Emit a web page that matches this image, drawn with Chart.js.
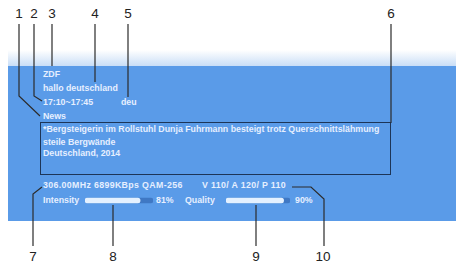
<!DOCTYPE html>
<html>
<head>
<meta charset="utf-8">
<script src="https://cdn.jsdelivr.net/npm/chart.js@4/dist/chart.umd.min.js"></script>
<style>
  html, body { margin: 0; padding: 0; background: #fff; }
  #stage { position: relative; width: 456px; height: 264px; overflow: hidden; background: #fff;
           font-family: "Liberation Sans", Arial, sans-serif; }
  #band { position: absolute; left: 8px; top: 50px; width: 448px; height: 16px;
          background: linear-gradient(#ffffff, #c9def7); }
  #panel { position: absolute; left: 8px; top: 66px; width: 448px; height: 155px; background: #5a9be8; }
  #box { position: absolute; left: 40px; top: 122px; width: 349px; height: 51px;
         border: 1.5px solid #1d3557; }
  .t { position: absolute; color: #e6efff; font-size: 8.8px; font-weight: bold; white-space: nowrap; line-height: 10px; }
  .wide { letter-spacing: 0.35px; }
  .n { position: absolute; color: #222; font-size: 13.5px; line-height: 14px; transform: translateX(-50%); }
  .bar { position: absolute; height: 9px; }
  svg { position: absolute; left: 0; top: 0; }
</style>
</head>
<body>
<div id="stage">
  <div id="band"></div>
  <div id="panel"></div>
  <div id="box"></div>
  <div id="texts"></div>
  <svg width="456" height="264">
    <g stroke="#2b2b2b" stroke-width="1.2" fill="none">
      <polyline points="19,24 19,96 40,116"/>
      <polyline points="34,24 34,96 42,101"/>
      <polyline points="52,24 52,66"/>
      <polyline points="95,24 95,82"/>
      <polyline points="128,24 128,97"/>
      <polyline points="391,24 391,123"/>
      <polyline points="33,246 33,194 42,187"/>
      <polyline points="113,246 113,205"/>
      <polyline points="256,246 256,205"/>
      <polyline points="324,246 324,199 311,187 292,187"/>
    </g>
  </svg>
  <div class="bar" style="left:85px; top:196px; width:68px;"><canvas id="intensityBar"></canvas></div>
  <div class="bar" style="left:226px; top:196px; width:64px;"><canvas id="qualityBar"></canvas></div>
</div>
<script>
// channel info
var channelName = 'ZDF';
var eventTitle = 'hallo deutschland';
var eventTime = '17:10~17:45';
var audioLang = 'deu';
var genre = 'News';
var description = ['*Bergsteigerin im Rollstuhl Dunja Fuhrmann besteigt trotz Querschnittslähmung',
                   'steile Bergwände', 'Deutschland, 2014'];
var tuning = '306.00MHz 6899KBps QAM-256';
var pids = 'V 110/ A 120/ P 110';

// signal meters
var meterLabels = ['Intensity', 'Quality'];
var meterValues = [81, 90];

// callout numbers
var calloutLabels = ['1', '2', '3', '4', '5', '6', '7', '8', '9', '10'];

var TEXTS = [
    [channelName, 43, 69], [eventTitle, 43, 83], [eventTime, 43, 97], [audioLang, 121, 97],
    [genre, 43, 111], [description[0], 43, 124], [description[1], 43, 137], [description[2], 43, 148],
    [tuning, 43, 180, 'wide'], [pids, 202, 180, 'wide'],
    [meterLabels[0], 43, 195], [meterValues[0] + '%', 156, 195],
    [meterLabels[1], 185, 195], [meterValues[1] + '%', 295, 195]
];
var CALLOUT_POS = [[19, 7], [34, 7], [52, 7], [95, 7], [128, 7], [391, 7],
                   [33, 250], [113, 250], [256, 250], [323, 250]];

var html = TEXTS.map(t => '<div class="t ' + (t[3] || '') + '" style="left:' + t[1] + 'px;top:' + t[2] + 'px">' + t[0] + '</div>').join('');
html += calloutLabels.map((c, i) => '<div class="n" style="left:' + CALLOUT_POS[i][0] + 'px;top:' + CALLOUT_POS[i][1] + 'px">' + c + '</div>').join('');
document.getElementById('texts').innerHTML = html;

function makeMeter(id, label, value) {
    var ctx = document.getElementById(id);
    return new Chart(ctx, {
        type: 'bar',
        data: {
            labels: [label],
            datasets: [
                { data: [value], backgroundColor: '#e4f1ff', borderRadius: 3, borderSkipped: false,
                  barThickness: 5, grouped: false, order: 1 },
                { data: [100], backgroundColor: '#3f78c4', borderRadius: 3, borderSkipped: false,
                  barThickness: 5, grouped: false, order: 2 }
            ]
        },
        options: {
            indexAxis: 'y',
            responsive: true,
            maintainAspectRatio: false,
            animation: false,
            layout: { padding: 0 },
            plugins: { legend: { display: false }, tooltip: { enabled: false } },
            scales: {
                x: { display: false, min: 0, max: 100 },
                y: { display: false }
            }
        }
    });
}
makeMeter('intensityBar', meterLabels[0], meterValues[0]);
makeMeter('qualityBar', meterLabels[1], meterValues[1]);
</script>
</body>
</html>
